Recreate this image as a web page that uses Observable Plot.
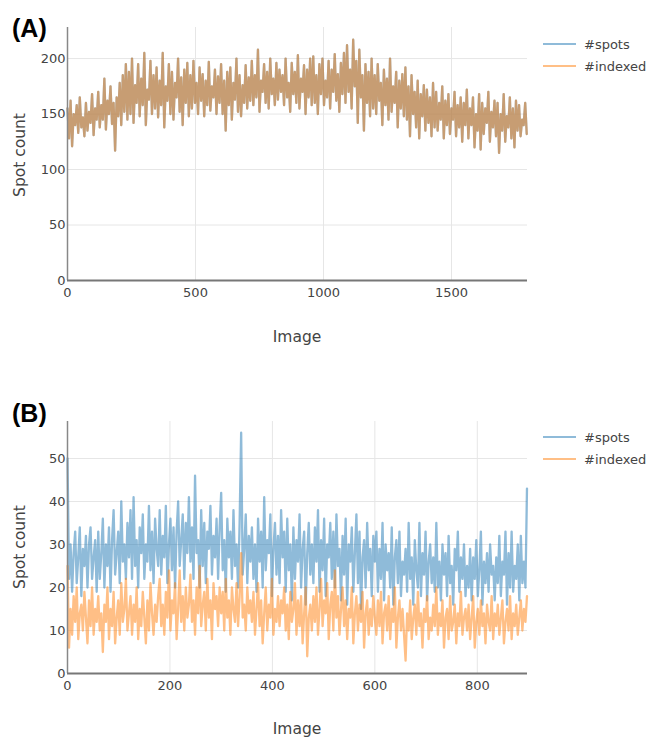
<!DOCTYPE html>
<html><head><meta charset="utf-8">
<script src="https://cdn.jsdelivr.net/npm/d3@7"></script>
<script src="https://cdn.jsdelivr.net/npm/@observablehq/plot@0.6"></script>
<style>
body{margin:0;background:#fff;}
#root{position:relative;width:649px;height:738px;overflow:hidden;background:#fff;}
#root svg{position:absolute;left:0;}
</style></head><body><div id="root"></div>
<script>
const seriesNames = ["#spots", "#indexed"];
const seriesColors = ["#1f77b4", "#ff7f0e"];
const panelLabels = ["(A)", "(B)"];
const xTitle = "Image";
const yTitle = "Spot count";

// Panel A: one value every 6 images (0 … 1794)
const aStep = 6;
const aSpots = [
155,128,162,121,150,140,158,133,165,138,147,130,160,135,152,142,168,131,155,145,
170,138,158,145,182,136,162,150,175,141,160,117,165,148,178,140,185,152,195,145,
188,150,200,142,176,160,195,148,182,158,205,140,172,163,198,150,185,155,192,147,
180,158,205,138,175,162,195,150,188,145,178,165,200,152,183,140,190,160,196,148,
185,155,198,160,178,150,192,162,186,148,180,158,197,153,175,165,190,150,184,160,
195,150,180,135,188,158,192,145,178,163,200,152,185,148,176,160,194,155,183,162,
198,158,185,165,208,152,180,170,195,160,188,155,200,168,182,158,196,163,190,170,
185,158,200,165,178,152,196,168,188,160,203,155,182,170,194,150,190,165,200,158,
202,160,185,150,195,168,200,158,180,165,198,155,190,170,204,162,186,152,196,168,
205,160,212,170,190,155,217,175,198,142,208,165,185,135,195,160,188,148,200,155,
185,150,195,162,178,140,190,158,182,145,200,152,175,160,188,138,180,155,186,148,
192,145,175,130,185,150,170,138,180,128,168,148,176,135,172,142,165,130,178,138,
170,135,160,145,175,128,162,140,168,132,155,145,170,130,158,138,165,125,160,140,
172,128,155,140,165,120,150,135,168,118,160,132,155,142,170,125,152,138,162,130,
160,115,150,135,168,125,148,138,165,128,155,120,162,135,158,130,145,140,160,132
];
// In panel A every image indexed all its spots: the two traces coincide
const aIndexed = aSpots.slice();

// Panel B: one value every 3 images (0 … 897)
const bStep = 3;
const bSpots = [
50,22,30,19,28,33,21,27,34,18,29,25,32,20,30,34,22,27,31,19,
33,22,28,36,20,30,25,34,19,31,38,23,28,33,21,40,26,30,22,35,
27,38,22,41,25,31,20,34,28,37,22,30,26,39,24,33,21,36,29,25,
38,23,32,27,39,21,30,36,24,34,20,33,40,25,31,37,22,35,28,41,
26,34,22,46,28,31,20,38,25,35,21,33,29,39,23,32,27,36,22,34,
42,24,31,19,36,27,33,22,38,25,30,20,35,56,23,29,37,21,32,26,
34,22,30,19,36,26,33,20,41,24,31,28,37,18,29,35,23,32,21,38,
27,33,19,36,24,30,17,34,22,31,26,37,20,29,33,16,28,35,23,30,
21,34,26,38,19,31,24,36,18,30,27,35,22,33,20,37,25,29,17,32,
23,36,16,30,26,34,19,28,37,21,33,15,27,31,20,35,24,29,18,32,
26,33,19,29,22,35,17,30,24,28,20,34,16,27,31,21,33,18,26,23,
29,19,35,22,27,16,31,24,20,35,18,28,23,33,17,26,30,21,27,19,
35,20,26,17,30,23,28,18,32,21,25,16,29,24,33,19,27,22,30,18,
25,20,29,17,27,22,31,18,24,33,16,26,21,28,19,30,23,25,17,27,
21,32,18,26,23,33,16,28,20,33,19,25,22,30,17,32,21,26,20,43
];
const bIndexed = [
25,6,15,9,18,12,20,8,14,16,10,19,13,7,17,11,20,9,15,12,
18,10,14,5,16,12,20,8,15,11,19,7,13,17,9,21,12,15,22,10,
14,18,9,16,12,20,8,15,11,19,13,7,17,10,21,14,9,16,12,18,
22,11,16,9,19,13,24,10,17,14,21,8,15,24,12,18,10,20,13,16,
23,12,17,9,20,14,25,11,16,19,10,22,13,17,8,21,15,18,11,20,
14,19,10,22,13,17,9,20,15,12,21,11,18,28,13,16,10,20,14,17,
12,19,9,15,21,11,17,7,14,20,10,16,13,22,9,15,12,18,11,17,
14,20,10,16,8,19,12,15,21,9,17,11,18,7,14,20,4,13,16,10,
18,12,20,9,15,22,11,17,14,21,8,16,19,10,24,13,18,9,15,20,
11,17,8,15,13,20,7,14,18,10,16,12,19,6,14,17,9,15,11,18,
13,9,17,11,19,7,14,16,10,18,8,15,12,20,6,13,17,10,15,9,
3,14,10,17,8,13,16,9,19,11,14,6,15,12,18,8,13,10,16,11,
20,9,14,11,17,6,13,15,8,18,10,12,16,7,14,11,19,9,13,15,
10,16,8,13,18,6,12,15,9,17,11,14,7,16,12,10,18,8,14,11,
16,9,13,17,7,12,15,10,18,8,14,11,16,9,13,17,10,15,12,18
];

const aXTicks = [0, 500, 1000, 1500];
const aYTicks = [0, 50, 100, 150, 200];
const bXTicks = [0, 200, 400, 600, 800];
const bYTicks = [0, 10, 20, 30, 40, 50];

const FONT = "DejaVu Sans, Verdana, sans-serif";
const root = document.getElementById("root");

function panel(cfg) {
  const toRows = (vals, s) => vals.map((v, i) => ({image: i * cfg.step, count: v, series: seriesNames[s]}));
  const rows0 = toRows(cfg.spots, 0);
  const rows1 = toRows(cfg.indexed, 1);
  const svg = Plot.plot({
    width: 649, height: cfg.height,
    marginTop: cfg.marginTop, marginBottom: cfg.marginBottom,
    marginLeft: 67, marginRight: 122,
    style: {fontFamily: FONT, fontSize: "13px", color: "#444", background: "transparent", overflow: "visible"},
    x: {domain: cfg.xDomain, label: null},
    y: {domain: cfg.yDomain, label: null},
    marks: [
      Plot.gridX({ticks: cfg.xTicks.filter(d => d > 0), stroke: "#e6e6e6", strokeOpacity: 1, strokeWidth: 1}),
      Plot.gridY({ticks: cfg.yTicks.filter(d => d > 0), stroke: "#e6e6e6", strokeOpacity: 1, strokeWidth: 1}),
      Plot.line(rows0, {x: "image", y: "count", stroke: seriesColors[0], strokeOpacity: 0.5, strokeWidth: 2.3}),
      Plot.line(rows1, {x: "image", y: "count", stroke: seriesColors[1], strokeOpacity: 0.5, strokeWidth: 2.3}),
      Plot.ruleX([cfg.xDomain[0]], {stroke: "#888", strokeWidth: 1.5}),
      Plot.ruleY([0], {stroke: "#777", strokeWidth: 2}),
      Plot.axisX({ticks: cfg.xTicks, tickFormat: d => String(d), tickSize: 0, tickPadding: 7,
        label: null, fill: "#444", fontSize: 13}),
      Plot.axisY({ticks: cfg.yTicks, tickFormat: d => String(d), tickSize: 0, tickPadding: 2,
        label: null, fill: "#444", fontSize: 13})
    ]
  });
  svg.style.top = cfg.top + "px";
  root.appendChild(svg);
}

panel({spots: aSpots, indexed: aIndexed, step: aStep, xDomain: [0, 1797], yDomain: [0, 228],
  xTicks: aXTicks, yTicks: aYTicks, top: 0, height: 360, marginTop: 27, marginBottom: 80});
panel({spots: bSpots, indexed: bIndexed, step: bStep, xDomain: [0, 898], yDomain: [0, 58.6],
  xTicks: bXTicks, yTicks: bYTicks, top: 380, height: 358, marginTop: 41, marginBottom: 65});

// Overlay: panel letters, axis titles, legends
const ov = d3.create("svg").attr("width", 649).attr("height", 738)
  .style("top", "0px").style("pointer-events", "none");
const panelsMeta = [
  {labelY: 37, imageY: 342, spotY: 155, legY: 44},
  {labelY: 422, imageY: 734, spotY: 547, legY: 437}
];
panelsMeta.forEach((p, k) => {
  ov.append("text").attr("x", 12).attr("y", p.labelY)
    .attr("font-family", "Liberation Sans, Arial, sans-serif").attr("font-weight", "bold")
    .attr("font-size", 25).attr("fill", "#000").text(panelLabels[k]);
  ov.append("text").attr("x", 297).attr("y", p.imageY).attr("text-anchor", "middle")
    .attr("font-family", FONT).attr("font-size", 15.5).attr("fill", "#444").text(xTitle);
  ov.append("text").attr("transform", `translate(25,${p.spotY}) rotate(-90)`).attr("text-anchor", "middle")
    .attr("font-family", FONT).attr("font-size", 15.5).attr("fill", "#444").text(yTitle);
  seriesNames.forEach((name, s) => {
    const y = p.legY + s * 22;
    ov.append("line").attr("x1", 543).attr("x2", 576).attr("y1", y).attr("y2", y)
      .attr("stroke", seriesColors[s]).attr("stroke-opacity", 0.5).attr("stroke-width", 2);
    ov.append("text").attr("x", 584).attr("y", y).attr("dy", "0.36em")
      .attr("font-family", FONT).attr("font-size", 13).attr("fill", "#444").text(name);
  });
});
root.appendChild(ov.node());
</script></body></html>
